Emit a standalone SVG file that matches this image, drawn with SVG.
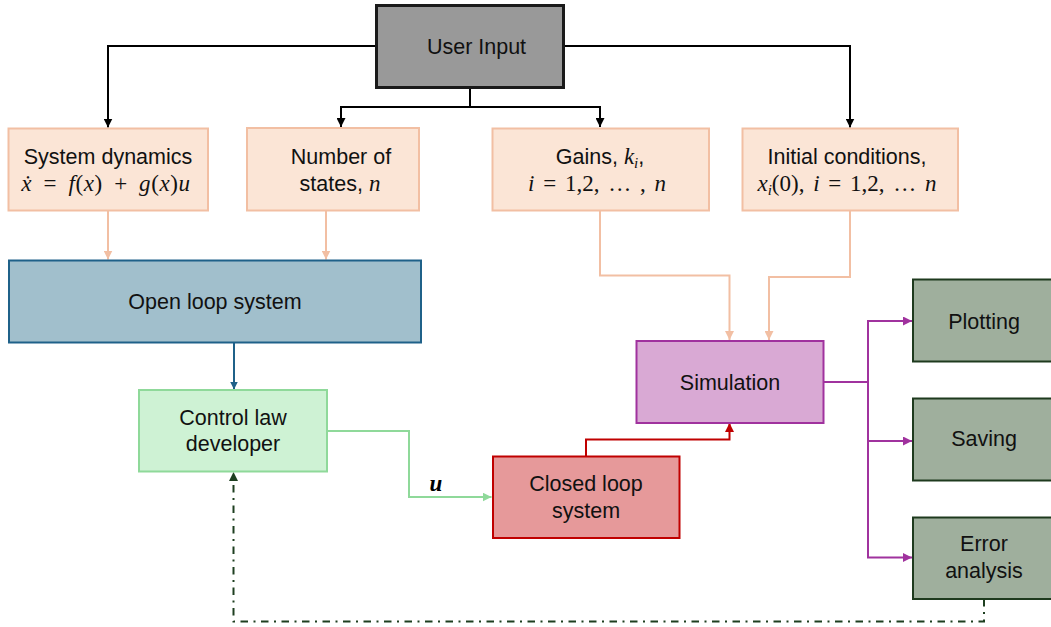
<svg xmlns="http://www.w3.org/2000/svg" width="1051" height="627" viewBox="0 0 1051 627">
<defs>
<style>
.t{font-family:"Liberation Sans","Arial",sans-serif;font-size:21.5px;fill:#111;text-anchor:middle}
.m{font-family:"Liberation Serif","DejaVu Serif",serif;font-size:23px}
.i{font-style:italic}
.s{font-size:15px;font-style:italic}
.c{fill:none;stroke-width:2}
</style>
<marker id="aK" viewBox="0 0 10 10" refX="10" refY="5" markerWidth="9" markerHeight="9" markerUnits="userSpaceOnUse" orient="auto"><path d="M0,0 L10,5 L0,10 z" fill="#000"/></marker>
<marker id="aO" viewBox="0 0 10 10" refX="10" refY="5" markerWidth="9" markerHeight="9" markerUnits="userSpaceOnUse" orient="auto"><path d="M0,0 L10,5 L0,10 z" fill="#F2BFA3"/></marker>
<marker id="aB" viewBox="0 0 10 10" refX="10" refY="5" markerWidth="8" markerHeight="8" markerUnits="userSpaceOnUse" orient="auto"><path d="M0,0 L10,5 L0,10 z" fill="#1F6189"/></marker>
<marker id="aG" viewBox="0 0 10 10" refX="10" refY="5" markerWidth="9" markerHeight="9" markerUnits="userSpaceOnUse" orient="auto"><path d="M0,0 L10,5 L0,10 z" fill="#8FD99A"/></marker>
<marker id="aR" viewBox="0 0 10 10" refX="10" refY="5" markerWidth="9" markerHeight="9" markerUnits="userSpaceOnUse" orient="auto"><path d="M0,0 L10,5 L0,10 z" fill="#C00000"/></marker>
<marker id="aP" viewBox="0 0 10 10" refX="10" refY="5" markerWidth="9" markerHeight="9" markerUnits="userSpaceOnUse" orient="auto"><path d="M0,0 L10,5 L0,10 z" fill="#A0329E"/></marker>
<marker id="aD" viewBox="0 0 10 10" refX="10" refY="5" markerWidth="9" markerHeight="9" markerUnits="userSpaceOnUse" orient="auto"><path d="M0,0 L10,5 L0,10 z" fill="#1E3F20"/></marker>
</defs>
<rect width="1051" height="627" fill="#fff"/>

<g id="connectors">
<path class="c" stroke="#000" stroke-width="1.6" d="M376,46 H108 V127.5" marker-end="url(#aK)"/>
<path class="c" stroke="#000" stroke-width="1.6" d="M563,46 H850 V127.5" marker-end="url(#aK)"/>
<path class="c" stroke="#000" stroke-width="1.6" d="M470,88 V107 H341 V127" marker-end="url(#aK)"/>
<path class="c" stroke="#000" stroke-width="1.6" d="M470,107 H600 V127" marker-end="url(#aK)"/>
<path class="c" stroke="#F2BFA3" d="M108,211 V259.5" marker-end="url(#aO)"/>
<path class="c" stroke="#F2BFA3" d="M326,211 V259.5" marker-end="url(#aO)"/>
<path class="c" stroke="#F2BFA3" d="M600,211 V275.5 H729.5 V340" marker-end="url(#aO)"/>
<path class="c" stroke="#F2BFA3" d="M850,211 V277 H769 V340" marker-end="url(#aO)"/>
<path class="c" stroke="#1F6189" d="M234,343 V389.5" marker-end="url(#aB)"/>
<path class="c" stroke="#8FD99A" d="M328,431 H409 V497 H491.5" marker-end="url(#aG)"/>
<path class="c" stroke="#C00000" d="M586,456 V439.5 H729.5 V423" marker-end="url(#aR)"/>
<path class="c" stroke="#A0329E" d="M824,382 H868 V321 H912"  marker-end="url(#aP)"/>
<path class="c" stroke="#A0329E" d="M868,382 V441 H912" marker-end="url(#aP)"/>
<path class="c" stroke="#A0329E" d="M868,441 V557.5 H912" marker-end="url(#aP)"/>
<path class="c" stroke="#1E3F20" stroke-dasharray="7.5 5.5 2 5.5" d="M984,599 V621.5 H233.5 V472" marker-end="url(#aD)"/>
<text x="436" y="491" font-family="Liberation Serif,DejaVu Serif,serif" font-size="23" font-weight="bold" font-style="italic" text-anchor="middle" fill="#000">u</text>
</g>

<g id="user-input">
<rect x="376.5" y="5.5" width="187" height="82" fill="#999999" stroke="#1a1a1a" stroke-width="3"/>
<text class="t" x="476.5" y="54">User Input</text>
</g>

<g id="system-dynamics">
<rect x="8.5" y="128.5" width="199.5" height="82" fill="#FBE5D6" stroke="#F2BFA3" stroke-width="2"/>
<text class="t" x="108" y="164">System dynamics</text>
<text class="t m" x="106" y="190.5" letter-spacing="0.6" word-spacing="5"><tspan class="i">ẋ</tspan> = <tspan class="i">f</tspan>(<tspan class="i">x</tspan>) + <tspan class="i">g</tspan>(<tspan class="i">x</tspan>)<tspan class="i">u</tspan></text>
</g>

<g id="number-of-states">
<rect x="247" y="128" width="172" height="82.5" fill="#FBE5D6" stroke="#F2BFA3" stroke-width="2"/>
<text class="t" x="341" y="163.5">Number of</text>
<text class="t" x="340" y="190.5">states, <tspan class="m i">n</tspan></text>
</g>

<g id="gains">
<rect x="492.5" y="128.5" width="216.5" height="82" fill="#FBE5D6" stroke="#F2BFA3" stroke-width="2"/>
<text class="t" x="600" y="164">Gains, <tspan class="m i">k</tspan><tspan class="m s" dy="4">i</tspan><tspan dy="-4">,</tspan></text>
<text class="t m" x="597" y="190.5" word-spacing="3"><tspan class="i">i</tspan> = 1,2, … , <tspan class="i">n</tspan></text>
</g>

<g id="initial-conditions">
<rect x="742.5" y="128.5" width="215.5" height="82" fill="#FBE5D6" stroke="#F2BFA3" stroke-width="2"/>
<text class="t" x="847" y="164">Initial conditions,</text>
<text class="t m" x="847" y="190.5" word-spacing="3"><tspan class="i">x</tspan><tspan class="s" dy="4">i</tspan><tspan dy="-4">(0), </tspan><tspan class="i">i</tspan> = 1,2, … <tspan class="i">n</tspan></text>
</g>

<g id="open-loop-system">
<rect x="9" y="260.5" width="412" height="82" fill="#A1BFCC" stroke="#1F6189" stroke-width="2"/>
<text class="t" x="215" y="309">Open loop system</text>
</g>

<g id="control-law-developer">
<rect x="139" y="390" width="188" height="81.5" fill="#CEF2D4" stroke="#8FD99A" stroke-width="2"/>
<text class="t" x="233" y="424.5">Control law</text>
<text class="t" x="233" y="451">developer</text>
</g>

<g id="closed-loop-system">
<rect x="493" y="456.5" width="186.5" height="81.5" fill="#E6999A" stroke="#C00000" stroke-width="2"/>
<text class="t" x="586" y="491">Closed loop</text>
<text class="t" x="586" y="518">system</text>
</g>

<g id="simulation">
<rect x="636.5" y="341" width="187" height="82" fill="#D9A9D4" stroke="#A0329E" stroke-width="2"/>
<text class="t" x="730" y="389.5">Simulation</text>
</g>

<g id="plotting">
<rect x="913" y="279.5" width="145" height="82" fill="#9FAF9D" stroke="#1E3A1E" stroke-width="2"/>
<text class="t" x="984" y="329">Plotting</text>
</g>

<g id="saving">
<rect x="913" y="398.5" width="145" height="82" fill="#9FAF9D" stroke="#1E3A1E" stroke-width="2"/>
<text class="t" x="984" y="446">Saving</text>
</g>

<g id="error-analysis">
<rect x="913" y="517.5" width="145" height="81.5" fill="#9FAF9D" stroke="#1E3A1E" stroke-width="2"/>
<text class="t" x="984" y="551">Error</text>
<text class="t" x="984" y="578">analysis</text>
</g>
</svg>
